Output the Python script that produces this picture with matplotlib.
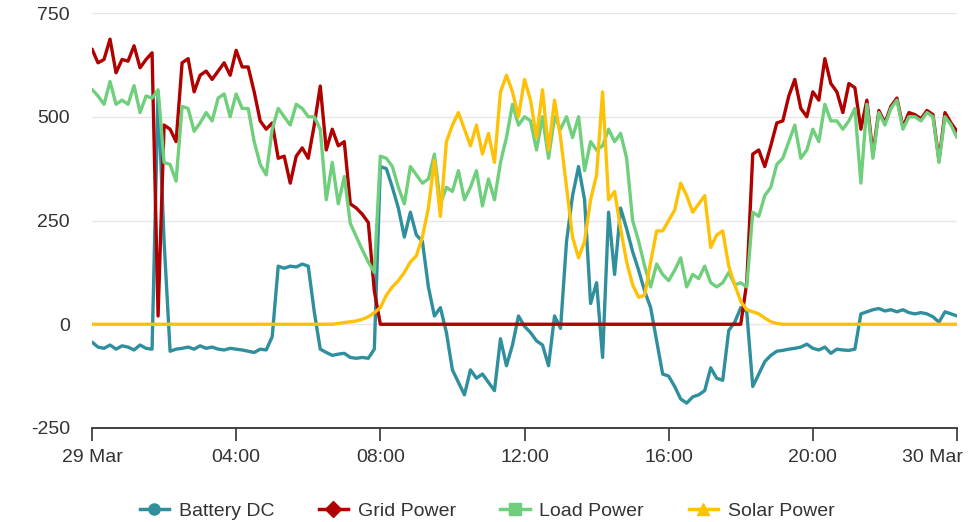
import matplotlib
matplotlib.use("Agg")
import matplotlib.pyplot as plt
import matplotlib.transforms as mtransforms
from matplotlib.lines import Line2D
import pandas as pd

plt.rcParams['font.family'] = ['Liberation Sans', 'DejaVu Sans']

# ---- data: 10-minute samples from 29 Mar 00:00 to 30 Mar 00:00 ----
times = pd.date_range("2024-03-29 00:00", "2024-03-30 00:00", freq="10min")

battery_dc = [
    -43, -55, -58, -50, -60, -52, -55, -62, -50, -58, -60, 560, 200, -65, -60, -58, -55, -60,
    -52, -58, -55, -60, -62, -58, -60, -62, -65, -68, -60, -62, -30, 140, 135, 140, 138, 145,
    140, 30, -60, -68, -75, -72, -70, -80, -82, -80, -82, -60, 380, 375, 330, 280, 210, 270,
    215, 200, 90, 20, 40, -20, -110, -140, -170, -110, -130, -120, -140, -160, -35, -100, -50, 20,
    -5, -20, -40, -50, -100, 20, -10, 200, 310, 380, 300, 50, 100, -80, 270, 120, 280, 230,
    175, 130, 80, 40, -40, -120, -125, -150, -180, -190, -175, -170, -160, -105, -130, -135, -15, 5,
    40, 30, -150, -120, -90, -75, -65, -63, -60, -58, -55, -48, -58, -62, -55, -70, -60, -62,
    -63, -60, 25, 30, 35, 38, 32, 35, 30, 35, 28, 25, 28, 25, 18, 5, 30, 25, 20,
]

grid_power = [
    663, 630, 638, 687, 606, 638, 634, 671, 618, 638, 654, 20, 480, 470, 440, 630, 640, 560,
    600, 610, 590, 610, 630, 600, 660, 620, 620, 560, 490, 470, 485, 400, 405, 340, 405, 425,
    400, 480, 574, 420, 470, 430, 440, 290, 280, 265, 245, 80, 0, 0, 0, 0, 0, 0,
    0, 0, 0, 0, 0, 0, 0, 0, 0, 0, 0, 0, 0, 0, 0, 0, 0, 0,
    0, 0, 0, 0, 0, 0, 0, 0, 0, 0, 0, 0, 0, 0, 0, 0, 0, 0,
    0, 0, 0, 0, 0, 0, 0, 0, 0, 0, 0, 0, 0, 0, 0, 0, 0, 0,
    0, 100, 410, 420, 380, 430, 485, 490, 550, 590, 520, 500, 560, 540, 640, 580, 560, 510,
    580, 570, 470, 540, 410, 515, 485, 525, 545, 475, 510, 505, 495, 515, 505, 395, 510, 485, 465,
]

load_power = [
    566, 550, 530, 585, 530, 540, 530, 575, 510, 550, 545, 565, 390, 385, 345, 525, 520, 465,
    485, 510, 490, 545, 555, 500, 555, 520, 520, 440, 385, 360, 470, 520, 500, 480, 530, 520,
    500, 500, 470, 300, 390, 290, 356, 243, 211, 179, 150, 125, 405, 400, 380, 330, 290, 380,
    360, 340, 350, 410, 290, 330, 320, 370, 300, 330, 370, 285, 350, 300, 390, 450, 530, 480,
    500, 490, 420, 500, 400, 500, 470, 500, 450, 500, 370, 440, 420, 430, 470, 440, 460, 400,
    250, 200, 140, 90, 145, 120, 105, 130, 160, 90, 120, 110, 140, 100, 90, 100, 125, 95,
    100, 90, 270, 260, 310, 330, 385, 400, 440, 480, 400, 420, 470, 440, 530, 490, 490, 470,
    490, 520, 340, 530, 400, 510, 480, 520, 540, 470, 500, 500, 490, 510, 500, 390, 500, 480, 450,
]

solar_power = [
    0, 0, 0, 0, 0, 0, 0, 0, 0, 0, 0, 0, 0, 0, 0, 0, 0, 0,
    0, 0, 0, 0, 0, 0, 0, 0, 0, 0, 0, 0, 0, 0, 0, 0, 0, 0,
    0, 0, 0, 0, 0, 2, 4, 6, 8, 12, 18, 28, 40, 70, 90, 105, 125, 150,
    165, 210, 280, 395, 260, 440, 480, 510, 470, 430, 480, 410, 460, 390, 560, 600, 560, 500,
    590, 540, 450, 565, 420, 540, 450, 330, 210, 160, 200, 300, 360, 560, 300, 320, 230, 150,
    95, 65, 70, 150, 225, 225, 250, 275, 340, 310, 270, 290, 310, 185, 215, 225, 140, 95,
    55, 35, 30, 25, 15, 6, 2, 0, 0, 0, 0, 0, 0, 0, 0, 0, 0, 0,
    0, 0, 0, 0, 0, 0, 0, 0, 0, 0, 0, 0, 0, 0, 0, 0, 0, 0, 0,
]

series_names = ["Battery DC", "Grid Power", "Load Power", "Solar Power"]
series_colors = ["#2f8f9d", "#b00000", "#6fcf7c", "#ffc107"]
series_markers = ["o", "D", "s", "^"]

tick_times = pd.date_range("2024-03-29 00:00", "2024-03-30 00:00", freq="4h")
tick_labels = ["29 Mar", "04:00", "08:00", "12:00", "16:00", "20:00", "30 Mar"]
y_ticks = [-250, 0, 250, 500, 750]

# ---- figure ----
fig = plt.figure(figsize=(9.74, 5.22), dpi=100)
ax = fig.add_axes([92 / 974, 1 - 428 / 522, (957 - 92) / 974, (428 - 13) / 522])

all_series = [battery_dc, grid_power, load_power, solar_power]
for i, (vals, name, col) in enumerate(zip(all_series, series_names, series_colors)):
    ax.plot(times, vals, color=col, lw=2.4, label=name, zorder=2 + i,
            solid_joinstyle="round", solid_capstyle="round")

ax.set_xlim(times[0], times[-1])
ax.set_ylim(-250, 750)
ax.set_yticks(y_ticks)
ax.set_yticklabels([str(v) for v in y_ticks])
ax.grid(axis="y", color="#e6e6e6", lw=1.0, zorder=0)
ax.set_axisbelow(True)

ax.set_xticks(tick_times)
labels = ax.set_xticklabels(tick_labels)
labels[-1].set_horizontalalignment("right")

for s in ["left", "right", "top"]:
    ax.spines[s].set_visible(False)
ax.spines["bottom"].set_color("#333333")
ax.spines["bottom"].set_linewidth(1.3)

ax.tick_params(axis="y", length=0, pad=16, labelsize=14, labelcolor="#333333")
ax.tick_params(axis="x", length=9, width=1.2, color="#333333", direction="out",
               pad=6, labelsize=14, labelcolor="#333333")

offset = mtransforms.ScaledTranslation(4 / 72, 0, fig.dpi_scale_trans)
labels[-1].set_transform(labels[-1].get_transform() + offset)

handles = [Line2D([0], [0], color=c, lw=2.5, marker=m, markersize=8,
                  markeredgecolor=c, markerfacecolor=c)
           for c, m in zip(series_colors, series_markers)]
fig.legend(handles, series_names, loc="lower center", bbox_to_anchor=(0.5, -0.03),
           ncol=4, frameon=False, fontsize=14, handlelength=1.5, columnspacing=2.3,
           handletextpad=0.5, labelcolor="#333333")

fig.savefig("out.png", dpi=100)
